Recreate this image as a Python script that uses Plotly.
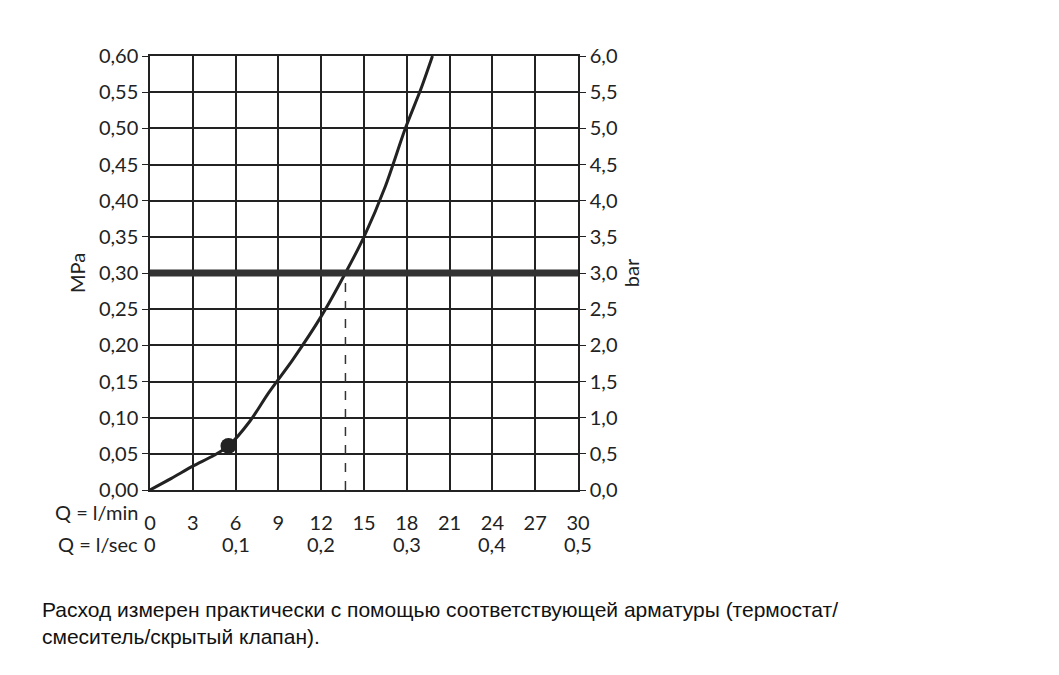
import plotly.graph_objects as go

flow_lmin = [0, 1.5, 3.0, 4.5, 5.5, 7.0, 8.3, 10.0, 12.0, 13.7, 15.0, 16.5, 17.9, 19.0, 19.8]
pressure_mpa = [0, 0.016, 0.033, 0.048, 0.061, 0.095, 0.134, 0.18, 0.24, 0.30, 0.35, 0.42, 0.50, 0.555, 0.60]
marker_pt = (5.5, 0.061)
operating_flow = 13.7
operating_pressure = 0.30
lmin_ticks = [0, 3, 6, 9, 12, 15, 18, 21, 24, 27, 30]
lsec_pos = [0, 6, 12, 18, 24, 30]
lsec_labels = ["0", "0,1", "0,2", "0,3", "0,4", "0,5"]

F = "Lato, Open Sans, sans-serif"
FS = 20
fig = go.Figure()
fig.add_trace(go.Scatter(x=flow_lmin, y=pressure_mpa, mode="lines", line=dict(color="#222", width=3, shape="spline", smoothing=0.8), hoverinfo="skip"))
fig.add_trace(go.Scatter(x=[marker_pt[0]], y=[marker_pt[1]], mode="markers", marker=dict(color="#222", size=16)))
fig.add_trace(go.Scatter(x=[0, 30], y=[operating_pressure]*2, mode="lines", line=dict(color="#333", width=7)))
fig.add_trace(go.Scatter(x=[operating_flow]*2, y=[0, operating_pressure], mode="lines", line=dict(color="#333", width=1.5, dash="dash")))
fig.add_trace(go.Scatter(x=[0], y=[0], yaxis="y2", mode="markers", marker=dict(opacity=0), hoverinfo="skip"))

ann = [dict(x=0, y=-0.083, xref="paper", yref="paper", text="Q = l/min", showarrow=False, xanchor="right", xshift=-10, font=dict(size=FS, family=F, color="#222"))]
ann.append(dict(x=0, y=-0.157, xref="paper", yref="paper", text="Q = l/sec", showarrow=False, xanchor="right", xshift=-10, font=dict(size=FS, family=F, color="#222")))
for p, l in zip(lsec_pos, lsec_labels):
    ann.append(dict(x=p, y=-0.157, xref="x", yref="paper", text=l, showarrow=False, font=dict(size=FS, family=F, color="#222")))
ann.append(dict(x=-142/428, y=-0.245, xref="paper", yref="paper", xanchor="left", yanchor="top", align="left", showarrow=False,
                xshift=32, text="Расход измерен практически с помощью соответствующей арматуры (термостат/<br>смеситель/скрытый клапан).",
                font=dict(size=21, family="Liberation Sans", color="#111")))

fig.update_layout(
    width=1059, height=675, showlegend=False, plot_bgcolor="white", paper_bgcolor="white",
    margin=dict(l=142, r=489, t=48, b=193, autoexpand=False), separators=", ",
    xaxis=dict(range=[0, 30], tickvals=lmin_ticks, showgrid=True, gridcolor="#222", gridwidth=1.5, zeroline=False,
               showline=True, linecolor="#222", linewidth=1.5, mirror=True, ticks="", ticklabelstandoff=14,
               tickfont=dict(size=FS, family=F, color="#222")),
    yaxis=dict(range=[0, 0.6], dtick=0.05, tickformat=".2f", showgrid=True, gridcolor="#222", gridwidth=1.5, zeroline=False,
               showline=True, linecolor="#222", linewidth=1.5, ticks="outside", ticklen=6, tickcolor="#222",
               tickfont=dict(size=FS, family=F, color="#222"), title=dict(text="MPa", font=dict(size=FS, family=F, color="#222"), standoff=8)),
    yaxis2=dict(range=[0, 6], dtick=0.5, tickformat=".1f", overlaying="y", side="right", showgrid=False, zeroline=False,
                ticks="outside", ticklen=6, tickcolor="#222", showline=True, linecolor="#222", linewidth=1.5,
                tickfont=dict(size=FS, family=F, color="#222"), title=dict(text="bar", font=dict(size=FS, family=F, color="#222"), standoff=8)),
    annotations=ann,
)
fig.write_html("out.html")
